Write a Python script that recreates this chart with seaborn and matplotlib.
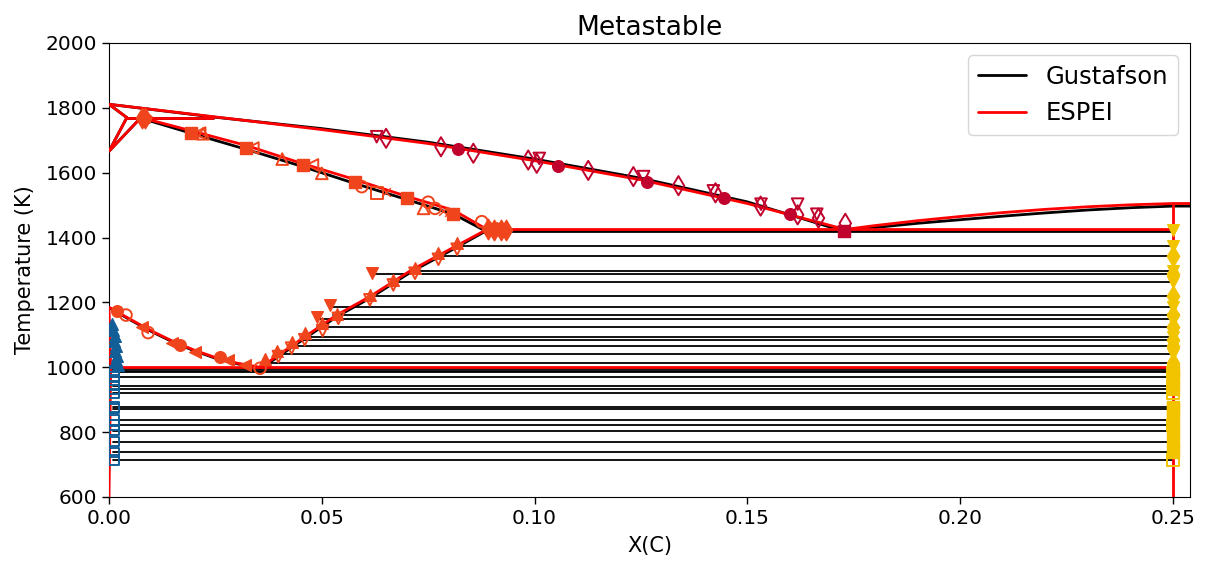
import numpy as np
import pandas as pd
import matplotlib
matplotlib.use("Agg")
import matplotlib.pyplot as plt
import seaborn as sns
from matplotlib.lines import Line2D

sns.set_style("ticks")
plt.rcParams['font.family'] = ['DejaVu Sans']
plt.rcParams.update({"text.color": "black", "axes.labelcolor": "black",
                     "xtick.color": "black", "ytick.color": "black",
                     "axes.edgecolor": "black"})

# ---------------- calculated phase boundaries ----------------
# ESPEI (red)
espei_liq_x = [0.0, 0.025, 0.05, 0.075, 0.10, 0.125, 0.15, 0.173]
espei_liq_T = [1811, 1772, 1733, 1690, 1637, 1578, 1505, 1425]
espei_sol_x = [0.0075, 0.02, 0.0325, 0.045, 0.057, 0.07, 0.081, 0.0888]
espei_sol_T = [1770, 1727, 1683, 1630, 1582, 1527, 1484, 1425]
espei_acm_x = [0.0355, 0.037, 0.046, 0.0535, 0.0613, 0.0711, 0.0817, 0.0888]
espei_acm_T = [1000, 1012, 1094, 1161, 1218, 1300, 1375, 1425]
espei_a3_x = [0.0, 0.005, 0.01, 0.015, 0.02, 0.025, 0.03, 0.0355]
espei_a3_T = [1185, 1148, 1112, 1080, 1053, 1030, 1013, 1000]
espei_cem_liq_x = [0.173, 0.18, 0.19, 0.20, 0.21, 0.22, 0.23, 0.24, 0.25, 0.254]
espei_cem_liq_T = [1425, 1437, 1452, 1465, 1477, 1487, 1495, 1501, 1505, 1505]
espei_delta_sol_x = [0.0, 0.0042]
espei_delta_sol_T = [1811, 1770]
espei_delta_lo_x = [0.0042, 0.0, 0.0075]
espei_delta_lo_T = [1770, 1666, 1770]
espei_perit_x = [0.0042, 0.0245]
espei_perit_T = [1770, 1770]
espei_eut_x = [0.0888, 0.25]
espei_eut_T = [1425, 1425]
espei_eutd_x = [0.0, 0.25]
espei_eutd_T = [1000, 1000]
espei_alpha_x = [0.0, 0.0004, 0.0]
espei_alpha_T = [600, 1000, 1185]
espei_cem_x = [0.25, 0.25]
espei_cem_T = [600, 1505]

# Gustafson (black)
gus_liq_x = [0.0, 0.025, 0.05, 0.075, 0.10, 0.125, 0.15, 0.1725]
gus_liq_T = [1811, 1771, 1736, 1694, 1642, 1583, 1510, 1420]
gus_sol_x = [0.0075, 0.02, 0.0325, 0.045, 0.057, 0.07, 0.081, 0.0885]
gus_sol_T = [1768, 1719, 1671, 1621, 1570, 1517, 1472, 1420]
gus_acm_x = [0.0355, 0.037, 0.046, 0.0535, 0.0613, 0.0711, 0.0817, 0.0885]
gus_acm_T = [997, 1008, 1089, 1156, 1213, 1295, 1370, 1420]
gus_a3_x = [0.0, 0.005, 0.01, 0.015, 0.02, 0.025, 0.03, 0.0355]
gus_a3_T = [1184, 1146, 1110, 1078, 1051, 1028, 1011, 997]
gus_cem_liq_x = [0.1725, 0.18, 0.19, 0.20, 0.21, 0.22, 0.23, 0.24, 0.25, 0.254]
gus_cem_liq_T = [1420, 1431, 1444, 1455, 1466, 1476, 1485, 1492, 1497, 1497]
gus_eut_x = [0.0885, 0.25]
gus_eut_T = [1420, 1420]
gus_eutd_x = [0.0, 0.25]
gus_eutd_T = [997, 997]
gus_perit_x = [0.0042, 0.0245]
gus_perit_T = [1768, 1768]

# ---------------- experimental tie-lines ----------------
tie_hi_T = [1375, 1343, 1298, 1287, 1264, 1219, 1187, 1161, 1148, 1123, 1094, 1084, 1067, 1041, 1012]
tie_hi_x = [0.082, 0.0782, 0.0716, 0.0617, 0.0676, 0.0613, 0.0519, 0.0527, 0.0488, 0.0488, 0.0457, 0.045, 0.0433, 0.0402, 0.0362]
tie_lo_T = [990, 984, 970, 943, 932, 920, 877, 872, 837, 822, 804, 771, 738, 714]
tie_lo_x = [0.001] * 14
tie_right_x = 0.25

# ---------------- experimental points ----------------
liq_o_x = [0.0821, 0.1056, 0.1265, 0.1445, 0.1599]
liq_o_T = [1672, 1622, 1570, 1521, 1472]
liq_d_x = [0.0651, 0.078, 0.0856, 0.0985, 0.1005, 0.1126, 0.1232, 0.1338, 0.1425, 0.1531, 0.1618, 0.1667, 0.173]
liq_d_T = [1706, 1680, 1660, 1639, 1629, 1607, 1588, 1560, 1538, 1497, 1470, 1460, 1444]
liq_v_x = [0.0629, 0.1011, 0.1256, 0.142, 0.1532, 0.1618, 0.1663]
liq_v_T = [1711, 1644, 1588, 1544, 1503, 1503, 1472]
liq_s_x = [0.1726]
liq_s_T = [1421]

sol_s_x = [0.0193, 0.0322, 0.0457, 0.0578, 0.070, 0.0809]
sol_s_T = [1722, 1676, 1624, 1570, 1521, 1473]
sol_lt_x = [0.0213, 0.0338, 0.0478]
sol_lt_T = [1722, 1676, 1624]
sol_tri_x = [0.0221, 0.0407, 0.050, 0.0739]
sol_tri_T = [1720, 1642, 1598, 1490]
sol_o_x = [0.0594, 0.075, 0.0766, 0.0876]
sol_o_T = [1557, 1509, 1490, 1449]
sol_sq_x = [0.0629]
sol_sq_T = [1537]
sol_x_x = [0.0652, 0.0785, 0.0800]
sol_x_T = [1541, 1482, 1478]
inv_d_x = [0.0078, 0.0085, 0.089, 0.0905, 0.092, 0.0932]
inv_d_T = [1768, 1768, 1425, 1424, 1423, 1424]
inv_p_x = [0.0088, 0.0895, 0.0912]
inv_p_T = [1769, 1430, 1428]

a3_of_x = [0.0018, 0.0167, 0.0261]
a3_of_T = [1175, 1069, 1033]
a3_oo_x = [0.004, 0.0092, 0.0355]
a3_oo_T = [1161, 1107, 997]
a3_lt_x = [0.0077, 0.0147, 0.0202, 0.028, 0.032]
a3_lt_T = [1125, 1074, 1048, 1022, 1007]

acm_up_x = [0.0367, 0.0394, 0.0429, 0.046, 0.05, 0.0535, 0.0613, 0.0668, 0.0719, 0.0774, 0.0818]
acm_up_T = [1025, 1050, 1079, 1105, 1136, 1165, 1223, 1269, 1305, 1351, 1384]
acm_vo_x = [0.0398, 0.0429, 0.046, 0.0502, 0.0539, 0.0613, 0.0668, 0.0719, 0.0774, 0.0818]
acm_vo_T = [1033, 1059, 1085, 1113, 1151, 1208, 1254, 1290, 1333, 1364]
acm_vf_x = [0.0488, 0.0519, 0.0617]
acm_vf_T = [1154, 1192, 1290]

bcc_up_x = [0.0006, 0.0010, 0.0014, 0.0012, 0.0016, 0.0014, 0.0018, 0.0016, 0.0020]
bcc_up_T = [1134, 1115, 1097, 1080, 1065, 1050, 1036, 1022, 1008]
bcc_s_x = [0.0012] * 14
bcc_s_T = tie_lo_T

cem_v_T = [1423, 1375, 1298, 1264, 1187, 1148, 1094, 1041]
cem_d_T = [1343, 1287, 1219, 1161, 1123, 1084, 1067, 1012]
cem_sf_T = [990, 970, 932, 877, 872, 837, 804, 771, 738]
cem_so_T = [984, 943, 920, 822, 714]

# ---------------- drawing ----------------
C_LIQ = "#c0022c"
C_FCC = "#f0451c"
C_BCC = "#125f97"
C_CEM = "#f2c400"

fig = plt.figure(figsize=(12.11, 5.62), dpi=100)
ax = fig.add_axes([0.090, 0.1157, 0.8927, 0.8078])

def line(x, T, c, lw, z):
    df = pd.DataFrame({"x": x, "T": T})
    sns.lineplot(data=df, x="x", y="T", sort=False, estimator=None, color=c,
                 linewidth=lw, ax=ax, zorder=z)

# tie-lines
for xl, T in zip(tie_hi_x + tie_lo_x, tie_hi_T + tie_lo_T):
    line([xl, tie_right_x], [T, T], "black", 1.3, 1)

# Gustafson
for xs, ts in [(gus_liq_x, gus_liq_T), (gus_sol_x, gus_sol_T), (gus_acm_x, gus_acm_T),
               (gus_a3_x, gus_a3_T), (gus_cem_liq_x, gus_cem_liq_T), (gus_eut_x, gus_eut_T),
               (gus_eutd_x, gus_eutd_T), (gus_perit_x, gus_perit_T),
               (espei_delta_sol_x, espei_delta_sol_T), (espei_delta_lo_x, espei_delta_lo_T)]:
    line(xs, ts, "black", 2.0, 2)

# ESPEI
for xs, ts in [(espei_liq_x, espei_liq_T), (espei_sol_x, espei_sol_T), (espei_acm_x, espei_acm_T),
               (espei_a3_x, espei_a3_T), (espei_cem_liq_x, espei_cem_liq_T),
               (espei_delta_sol_x, espei_delta_sol_T), (espei_delta_lo_x, espei_delta_lo_T),
               (espei_perit_x, espei_perit_T), (espei_eut_x, espei_eut_T),
               (espei_eutd_x, espei_eutd_T), (espei_alpha_x, espei_alpha_T),
               (espei_cem_x, espei_cem_T)]:
    line(xs, ts, "#ff0000", 2.0, 3)

def pts(x, T, m, c, filled=True, s=70):
    if filled:
        sns.scatterplot(x=x, y=T, marker=m, s=s, color=c, edgecolor=c, linewidth=1.0,
                        ax=ax, zorder=4)
    else:
        sns.scatterplot(x=x, y=T, marker=m, s=s, facecolor="none", edgecolor=c,
                        linewidth=1.4, ax=ax, zorder=4)

pts(liq_o_x, liq_o_T, "o", C_LIQ)
pts(liq_d_x, liq_d_T, "d", C_LIQ, False, 95)
pts(liq_v_x, liq_v_T, "v", C_LIQ, False)
pts(liq_s_x, liq_s_T, "s", C_LIQ)

pts(sol_s_x, sol_s_T, "s", C_FCC)
pts(sol_lt_x, sol_lt_T, "<", C_FCC, False)
pts(sol_tri_x, sol_tri_T, "^", C_FCC, False)
pts(sol_o_x, sol_o_T, "o", C_FCC, False)
pts(sol_sq_x, sol_sq_T, "s", C_FCC, False)
pts(sol_x_x, sol_x_T, "x", C_FCC, True, 40)
pts(inv_d_x, inv_d_T, "d", C_FCC, True, 110)
pts(inv_p_x, inv_p_T, "p", C_FCC, True, 70)

pts(a3_of_x, a3_of_T, "o", C_FCC)
pts(a3_oo_x, a3_oo_T, "o", C_FCC, False)
pts(a3_lt_x, a3_lt_T, "<", C_FCC)

pts(acm_up_x, acm_up_T, "^", C_FCC)
pts(acm_vo_x, acm_vo_T, "v", C_FCC, False)
pts(acm_vf_x, acm_vf_T, "v", C_FCC)

pts(bcc_up_x, bcc_up_T, "^", C_BCC)
pts(bcc_s_x, bcc_s_T, "s", C_BCC, False, 45)

pts([0.25] * len(cem_v_T), cem_v_T, "v", C_CEM)
pts([0.25] * len(cem_d_T), cem_d_T, "d", C_CEM, True, 110)
pts([0.25] * len(cem_sf_T), cem_sf_T, "s", C_CEM)
pts([0.25] * len(cem_so_T), cem_so_T, "s", C_CEM, False)

ax.set_xlim(0, 0.254)
ax.set_ylim(600, 2000)
ax.set_xticks([0.0, 0.05, 0.10, 0.15, 0.20, 0.25])
ax.set_xticklabels(["0.00", "0.05", "0.10", "0.15", "0.20", "0.25"])
ax.set_yticks([600, 800, 1000, 1200, 1400, 1600, 1800, 2000])
ax.tick_params(labelsize=14.5, length=5, width=1.0)
ax.set_xlabel("X(C)", fontsize=15, labelpad=6)
ax.set_ylabel("Temperature (K)", fontsize=15, labelpad=8)
ax.set_title("Metastable", fontsize=19)

handles = [Line2D([], [], color="black", lw=2), Line2D([], [], color="#ff0000", lw=2)]
ax.legend(handles, ["Gustafson", "ESPEI"], loc="upper right", fontsize=17.5)

fig.savefig("out.png", dpi=100)
